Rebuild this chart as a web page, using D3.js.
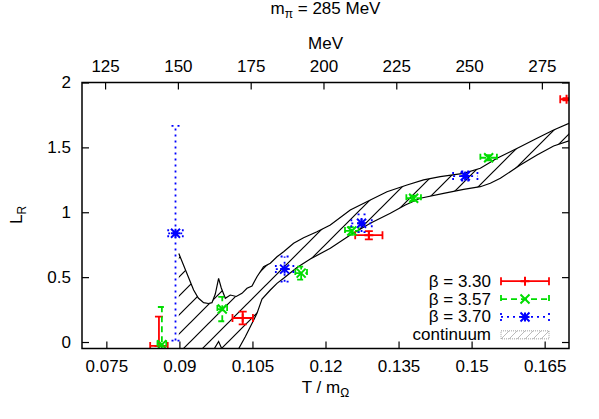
<!DOCTYPE html>
<html><head><meta charset="utf-8">
<script src="https://cdn.jsdelivr.net/npm/d3@7"></script>
<style>
body{margin:0;background:#fff}
svg{display:block}
text{font-family:"Liberation Sans",Arial,Helvetica,sans-serif;font-size:17px;fill:#000}
</style>
</head><body>
<svg id="c" width="599" height="419"></svg>
<script>
// ---------- data ----------
const xTicks = [0.075, 0.09, 0.105, 0.12, 0.135, 0.15, 0.165];
const xTopTicks = [125, 150, 175, 200, 225, 250, 275];
const yTicks = [0, 0.5, 1, 1.5, 2];
const mOmegaMeV = 1672.45;

const seriesNames = ["β = 3.30", "β = 3.57", "β = 3.70"];

const b330X  = [0.0858, 0.1030, 0.1289, 0.1695];
const b330Y  = [-0.03, 0.185, 0.823, 1.871];
const b330XE = [0.0018, 0.0021, 0.0028, 0.0013];
const b330YE = [0.225, 0.049, 0.032, 0.008];

const b357X  = [0.0864, 0.0988, 0.1150, 0.1254, 0.1381, 0.1535];
const b357Y  = [-0.02, 0.254, 0.531, 0.856, 1.108, 1.420];
const b357XE = [0.0009, 0.0010, 0.0012, 0.0014, 0.0015, 0.0017];
const b357YE = [0.29, 0.094, 0.05, 0.03, 0.02, 0.02];

const b370X  = [0.0892, 0.1116, 0.1274, 0.1487];
const b370Y  = [0.838, 0.562, 0.915, 1.279];
const b370XE = [0.0015, 0.0018, 0.0021, 0.0025];
const b370YE = [0.827, 0.097, 0.068, 0.035];

const bandUpperX = [0.08988,0.09142,0.09292,0.09388,0.09497,0.09593,0.09669,0.09737,0.09805,0.0986,0.09943,0.10045,0.10168,0.10285,0.10388,0.10491,0.10593,0.10729,0.10867,0.11004,0.1114,0.11345,0.1155,0.11825,0.12099,0.12509,0.1292,0.13263,0.13674,0.14014,0.14357,0.14836,0.15179,0.15522,0.16,0.16343,0.16684,0.17];
const bandUpperY = [0.682,0.540,0.401,0.339,0.303,0.297,0.303,0.370,0.491,0.416,0.337,0.362,0.351,0.375,0.414,0.432,0.503,0.580,0.607,0.657,0.696,0.761,0.804,0.850,0.902,1.017,1.094,1.158,1.210,1.249,1.274,1.300,1.339,1.416,1.505,1.570,1.634,1.686];
const bandLowerX = [0.08988,0.09676,0.09805,0.09901,0.10127,0.10216,0.10353,0.10456,0.10593,0.10696,0.10867,0.11004,0.1114,0.11415,0.11688,0.12099,0.12509,0.1292,0.13331,0.13639,0.13947,0.14425,0.14836,0.15179,0.15384,0.1559,0.16,0.16343,0.16684,0.17];
const bandLowerY = [-0.154,-0.077,0.004,-0.077,-0.100,-0.052,0.041,0.118,0.221,0.331,0.401,0.452,0.491,0.574,0.640,0.722,0.825,0.915,0.992,1.056,1.108,1.146,1.177,1.197,1.223,1.262,1.364,1.441,1.511,1.551];
const bandName = "continuum";

// ---------- layout ----------
const L = 82, R = 569, T = 82.5, B = 348.5;
const svg = d3.select("#c");
const x = d3.scaleLinear().domain([0.07, 0.17]).range([L, R]);
const xTop = d3.scaleLinear().domain([0.07 * mOmegaMeV, 0.17 * mOmegaMeV]).range([L, R]);
const y = d3.scaleLinear().domain([-0.05, 2]).range([B, T]);

const defs = svg.append("defs");
defs.append("clipPath").attr("id", "clip").append("rect")
  .attr("x", L).attr("y", T).attr("width", R - L).attr("height", B - T);
const P = 19;
const pat = defs.append("pattern").attr("id", "hatch").attr("patternUnits", "userSpaceOnUse")
  .attr("width", P).attr("height", P);
pat.append("path").attr("d", `M0,${P} L${P},0 M${-P/2},${P/2} L${P/2},${-P/2} M${P/2},${P*1.5} L${P*1.5},${P/2}`)
  .attr("stroke", "#000").attr("stroke-width", 1.2);
const P2 = 8;
const pat2 = defs.append("pattern").attr("id", "hatch2").attr("patternUnits", "userSpaceOnUse")
  .attr("width", P2).attr("height", P2);
pat2.append("path").attr("d", `M0,${P2} L${P2},0 M${-P2/2},${P2/2} L${P2/2},${-P2/2} M${P2/2},${P2*1.5} L${P2*1.5},${P2/2}`)
  .attr("stroke", "#aaa").attr("stroke-width", 0.8);

// ---------- band ----------
const plot = svg.append("g").attr("clip-path", "url(#clip)");
const upper = bandUpperX.map((v, i) => [v, bandUpperY[i]]);
const lower = bandLowerX.map((v, i) => [v, bandLowerY[i]]);
const line = d3.line().x(d => x(d[0])).y(d => y(d[1]));
plot.append("path").attr("d", line(upper.concat(lower.slice().reverse())) + "Z")
  .attr("fill", "url(#hatch)").attr("stroke", "none");
plot.append("path").attr("d", line(upper)).attr("fill", "none").attr("stroke", "#000").attr("stroke-width", 1.2);
plot.append("path").attr("d", line(lower)).attr("fill", "none").attr("stroke", "#000").attr("stroke-width", 1.2);

// ---------- series ----------
const series = [
  {name: seriesNames[0], color: "#ff0000", dash: null, sym: "plus", xs: b330X, ys: b330Y, xe: b330XE, ye: b330YE},
  {name: seriesNames[1], color: "#00dd00", dash: "6,4", sym: "cross", xs: b357X, ys: b357Y, xe: b357XE, ye: b357YE},
  {name: seriesNames[2], color: "#0000ff", dash: "2,4", sym: "star", xs: b370X, ys: b370Y, xe: b370XE, ye: b370YE}
];
function glyph(type, cx, cy, s) {
  const p = `M${cx - s},${cy} L${cx + s},${cy} M${cx},${cy - s} L${cx},${cy + s}`;
  const c = `M${cx - s},${cy - s} L${cx + s},${cy + s} M${cx - s},${cy + s} L${cx + s},${cy - s}`;
  if (type === "plus") return p;
  if (type === "cross") return c;
  return p + " " + c;
}
const cap = 4;
series.forEach(s => {
  const g = plot.append("g").attr("stroke", s.color).attr("stroke-width", 1.8).attr("fill", "none");
  s.xs.forEach((xv, i) => {
    const px = x(xv), py = y(s.ys[i]);
    const x0 = x(xv - s.xe[i]), x1 = x(xv + s.xe[i]);
    const y0 = y(s.ys[i] - s.ye[i]), y1 = y(s.ys[i] + s.ye[i]);
    const d = `M${x0},${py} L${x1},${py} M${x0},${py - cap} L${x0},${py + cap} M${x1},${py - cap} L${x1},${py + cap}` +
              ` M${px},${y0} L${px},${y1} M${px - cap},${y0} L${px + cap},${y0} M${px - cap},${y1} L${px + cap},${y1}`;
    g.append("path").attr("d", d).attr("stroke-dasharray", s.dash);
    g.append("path").attr("d", glyph(s.sym, px, py, 4.5)).attr("stroke-width", 2);
  });
});

// ---------- axes ----------
const axB = svg.append("g").attr("transform", `translate(0,${B})`)
  .call(d3.axisBottom(x).tickValues(xTicks).tickFormat(d3.format("")).tickSize(-7).tickPadding(11.5));
const axT = svg.append("g").attr("transform", `translate(0,${T})`)
  .call(d3.axisTop(xTop).tickValues(xTopTicks).tickSize(-7).tickPadding(10.5));
const axL = svg.append("g").attr("transform", `translate(${L},0)`)
  .call(d3.axisLeft(y).tickValues(yTicks).tickFormat(d3.format("")).tickSize(-7).tickPadding(11));
const axR = svg.append("g").attr("transform", `translate(${R},0)`)
  .call(d3.axisRight(y).tickValues(yTicks).tickFormat("").tickSize(-7));
[axB, axT, axL, axR].forEach(a => {
  a.select(".domain").remove();
  a.selectAll(".tick line").attr("stroke", "#000").attr("stroke-width", 1.2);
  a.selectAll("text").attr("font-size", 17).attr("font-family", null).attr("fill", "#000");
});
svg.append("rect").attr("x", L).attr("y", T).attr("width", R - L).attr("height", B - T)
  .attr("fill", "none").attr("stroke", "#000").attr("stroke-width", 1.5);

// ---------- titles ----------
const cx = (L + R) / 2;
const title = svg.append("text").attr("x", cx).attr("y", 14).attr("text-anchor", "middle");
title.append("tspan").text("m");
title.append("tspan").attr("dy", 4).attr("font-size", 12).text("π");
title.append("tspan").attr("dy", -4).text(" = 285 MeV");
svg.append("text").attr("x", cx).attr("y", 49).attr("text-anchor", "middle").text("MeV");
const xl = svg.append("text").attr("x", cx).attr("y", 393).attr("text-anchor", "middle");
xl.append("tspan").text("T / m");
xl.append("tspan").attr("dy", 4).attr("font-size", 12).text("Ω");
const yl = svg.append("text").attr("transform", "translate(22,215) rotate(-90)").attr("text-anchor", "middle");
yl.append("tspan").text("L");
yl.append("tspan").attr("dy", 4).attr("font-size", 12).text("R");

// ---------- legend ----------
const lgX0 = 501, lgX1 = 549, lgText = 491, lgDy = 17.9, lgY0 = 308 - 1.5 * lgDy, lgFont = 15.5;
series.forEach((s, i) => {
  const ly = lgY0 + i * lgDy;
  svg.append("text").attr("x", lgText).attr("y", ly + 5.5).attr("text-anchor", "end")
    .attr("font-size", lgFont).text(s.name);
  const g = svg.append("g").attr("stroke", s.color).attr("stroke-width", 1.8).attr("fill", "none");
  g.append("path").attr("d", `M${lgX0},${ly} L${lgX1},${ly} M${lgX0},${ly - cap} L${lgX0},${ly + cap} M${lgX1},${ly - cap} L${lgX1},${ly + cap}`)
    .attr("stroke-dasharray", s.dash);
  g.append("path").attr("d", glyph(s.sym, (lgX0 + lgX1) / 2, ly, 4.5)).attr("stroke-width", 2);
});
const cy3 = lgY0 + 3 * lgDy;
svg.append("text").attr("x", lgText).attr("y", cy3 + 5.5).attr("text-anchor", "end")
  .attr("font-size", lgFont).text(bandName);
svg.append("rect").attr("x", lgX0).attr("y", cy3 - 4).attr("width", lgX1 - lgX0).attr("height", 8)
  .attr("fill", "url(#hatch2)").attr("stroke", "#888").attr("stroke-width", 0.8).attr("stroke-dasharray", "1,1");
</script>
</body></html>
